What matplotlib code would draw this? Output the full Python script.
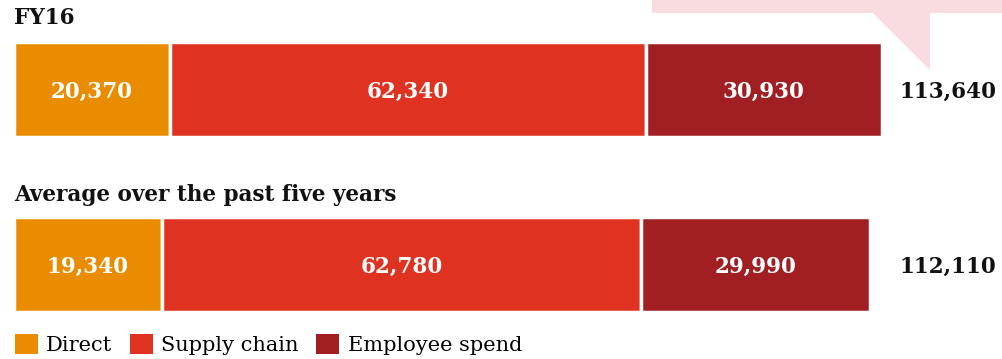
import matplotlib.pyplot as plt
from matplotlib.patches import Polygon

rows = ["FY16", "Average over the past five years"]
categories = ["Direct", "Supply chain", "Employee spend"]
direct = [20370, 19340]
supply_chain = [62340, 62780]
employee = [30930, 29990]
totals = [113640, 112110]

colors = ['#EA8C00', '#E03220', '#A11F22']
W, H = 1002, 359
serif = ['DejaVu Serif']

fig = plt.figure(figsize=(W / 100, H / 100), dpi=100)
ax = fig.add_axes([0, 0, 1, 1])

# x in data units, 0 at 14px, largest total at 882px
scale = (882 - 14) / max(totals)
ax.set_xlim(-14 / scale, (W - 14) / scale)
ax.set_ylim(H, 0)
ax.axis('off')

# pink callout poking in from above (pixel outline -> figure fraction)
outline = [(652, 0), (W, 0), (W, 13), (930, 13), (930, 70), (873, 13), (652, 13)]
callout = Polygon([(x / W, 1 - y / H) for x, y in outline], closed=True,
                  transform=fig.transFigure, facecolor='#F8DCE0', edgecolor='none')
fig.patches.append(callout)

ypos = [89.5, 264.5]
series = [direct, supply_chain, employee]
left = [0, 0]
handles = []
for vals, name, col in zip(series, categories, colors):
    b = ax.barh(ypos, vals, left=left, height=95, color=col, edgecolor='white',
                linewidth=2.5, label=name)
    handles.append(b)
    for y, v, l in zip(ypos, vals, left):
        ax.text(l + v / 2, y + 2, f"{v:,}", ha='center', va='center', color='white',
                fontsize=15.5, fontweight='bold', family=serif)
    left = [l + v for l, v in zip(left, vals)]

for y, t in zip(ypos, totals):
    fig.text(948 / W, 1 - (y + 2) / H, f"{t:,}", ha='center', va='center', color='#111111',
             fontsize=15.5, fontweight='bold', family=serif)

title_y = [18, 195]
for ty, r in zip(title_y, rows):
    fig.text(14 / W, 1 - ty / H, r, ha='left', va='center', color='#111111',
             fontsize=15.5, fontweight='bold', family=serif)

leg = fig.legend(handles=handles, labels=categories, loc='lower left',
                 bbox_to_anchor=(0.0, -0.03), ncol=3, frameon=False,
                 prop={'family': 'DejaVu Serif', 'size': 15},
                 handlelength=1.1, handleheight=1.1, handletextpad=0.4,
                 columnspacing=0.85, borderpad=0.2)
for h in leg.legend_handles:
    h.set_edgecolor('none')

fig.savefig('out.png', dpi=100)
